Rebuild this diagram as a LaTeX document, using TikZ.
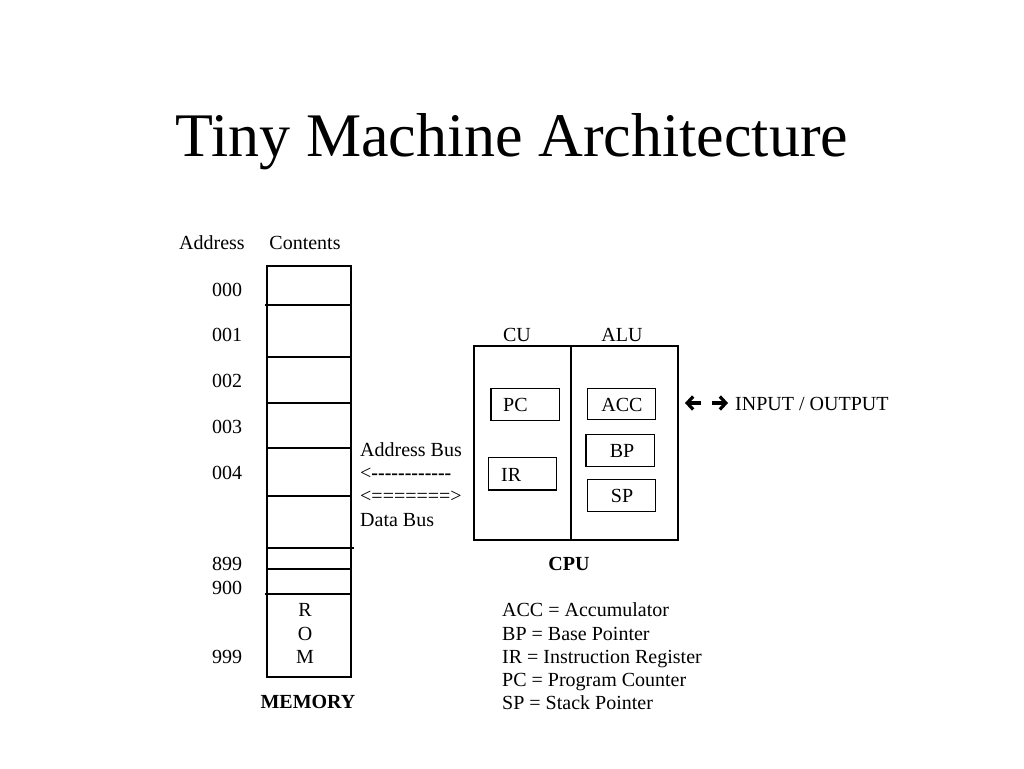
\documentclass[tikz,border=0pt]{standalone}
\usepackage{fontspec}
\setmainfont{Liberation Serif}
\usetikzlibrary{arrows.meta}
\newcommand{\dsh}{-\kern0pt}
\begin{document}
\begin{tikzpicture}[x=1pt,y=-1pt,
  lbl/.style={anchor=base, inner sep=0pt, font=\fontsize{20}{24}\selectfont},
  lblw/.style={lbl, anchor=base west},
  reg/.style={draw, line width=1.1pt, inner sep=0pt},
  frame/.style={line width=1.2pt},
  ioarrow/.style={line width=3.2pt, -{Straight Barb[length=6pt,width=13pt,line width=3.2pt]}}]
\useasboundingbox (0,0) rectangle (1024,768);
% title
\node[anchor=base, inner sep=0pt, font=\fontsize{62}{70}\selectfont] (title) at (512,156) {Tiny Machine Architecture};
% memory
\node[lbl] (haddr) at (212,249) {Address};
\node[lbl] (hcont) at (305,249) {Contents};
\draw[frame] (267,266) rectangle (351,677);
\draw[frame] (265,305) -- (351,305);
\draw[frame] (267,357) -- (351,357);
\draw[frame] (267,403) -- (351,403);
\draw[frame] (267,448) -- (351,448);
\draw[frame] (267,496) -- (351,496);
\draw[frame] (267,548) -- (354,548);
\draw[frame] (267,569) -- (351,569);
\draw[frame] (265,594) -- (351,594);
\node[lbl] (a000) at (227,296) {000};
\node[lbl] (a001) at (227,341) {001};
\node[lbl] (a002) at (227,387) {002};
\node[lbl] (a003) at (227,433) {003};
\node[lbl] (a004) at (227,479) {004};
\node[lbl] (a899) at (227,570) {899};
\node[lbl] (a900) at (227,594) {900};
\node[lbl] (a999) at (227,663) {999};
\node[lbl] (romR) at (305,616) {R};
\node[lbl] (romO) at (305,640) {O};
\node[lbl] (romM) at (305,663) {M};
\node[lbl, font=\fontsize{20}{24}\selectfont\bfseries] (mem) at (308,708) {MEMORY};
% buses
\node[lblw] (abus) at (360,456) {Address Bus};
\node[lblw] (adash) at (360,479) {<\textbf{\dsh\dsh\dsh\dsh\dsh\dsh\dsh\dsh\dsh\dsh\dsh\dsh}};
\node[lblw] (ddash) at (360,502) {<=======>};
\node[lblw] (dbus) at (360,526) {Data Bus};
% CPU
\draw[frame] (474,346) rectangle (678,540);
\draw[frame] (571,346) -- (571,540);
\node[lbl] (cu) at (517,341) {CU};
\node[lbl] (alu) at (622,341) {ALU};
\node[lbl, font=\fontsize{20}{24}\selectfont\bfseries] (cpu) at (569,570) {CPU};
\node[reg, minimum width=68.7pt, minimum height=32pt] (pc) at (525.3,404.3) {};
\node[reg, minimum width=68.3pt, minimum height=32.3pt] (ir) at (522.2,473.8) {};
\node[reg, minimum width=68.4pt, minimum height=31pt] (acc) at (621.5,403.8) {};
\node[reg, minimum width=68.7pt, minimum height=32pt] (bp) at (620.3,450.3) {};
\node[reg, minimum width=68.4pt, minimum height=32.4pt] (sp) at (621.5,495.5) {};
\node[lblw] (pct) at (503,411) {PC};
\node[lblw] (irt) at (501,481) {IR};
\node[lbl] (acct) at (622,411) {ACC};
\node[lbl] (bpt) at (622,457) {BP};
\node[lbl] (spt) at (622,502) {SP};
% I/O
\coordinate (la) at (701,403);
\coordinate (lb) at (685,403);
\coordinate (ra) at (712,403);
\coordinate (rb) at (728,403);
\draw[ioarrow] (la) -- (lb);
\draw[ioarrow] (ra) -- (rb);
\node[lblw] (io) at (735,410) {INPUT / OUTPUT};
% legend
\node[lblw] (l1) at (502,616) {ACC = Accumulator};
\node[lblw] (l2) at (502,640) {BP = Base Pointer};
\node[lblw] (l3) at (502,663) {IR = Instruction Register};
\node[lblw] (l4) at (502,686) {PC = Program Counter};
\node[lblw] (l5) at (502,709) {SP = Stack Pointer};
\end{tikzpicture}
\end{document}
